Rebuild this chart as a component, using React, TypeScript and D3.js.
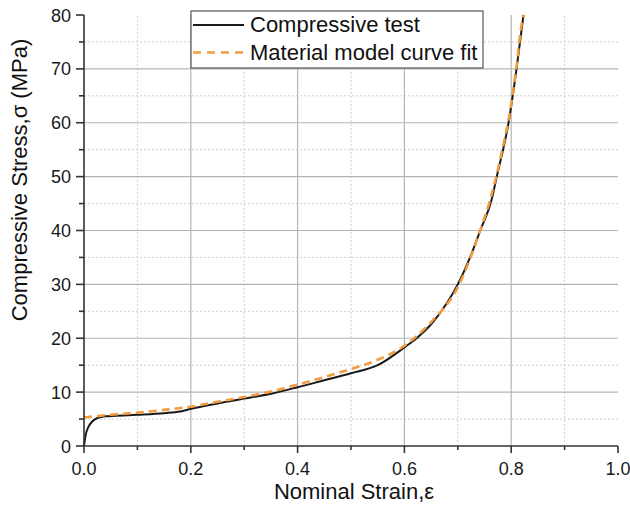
import React from "react";
import * as d3 from "d3";

const testStrain = [0, 0.003, 0.008, 0.015, 0.025, 0.04, 0.06, 0.1, 0.15, 0.18, 0.2, 0.25, 0.3, 0.35, 0.4, 0.45, 0.5, 0.55, 0.6, 0.625, 0.65, 0.68, 0.7, 0.723, 0.742, 0.763, 0.773, 0.795, 0.81, 0.823];
const testStress = [0, 2, 3.5, 4.5, 5.2, 5.5, 5.6, 5.8, 6.1, 6.4, 6.9, 7.9, 8.8, 9.7, 10.9, 12.2, 13.5, 15.0, 18.3, 20.2, 22.6, 26.6, 30, 35, 40, 45.6, 50, 60, 70, 80];

const fitStrain = [0, 0.05, 0.1, 0.15, 0.2, 0.25, 0.3, 0.35, 0.4, 0.45, 0.5, 0.55, 0.6, 0.65, 0.7, 0.72, 0.74, 0.76, 0.78, 0.8, 0.81, 0.82, 0.824];
const fitStress = [5.3, 5.8, 6.2, 6.7, 7.3, 8.2, 9.1, 10.1, 11.4, 12.8, 14.3, 16.0, 18.6, 23, 29.5, 34, 39.5, 45.5, 53.5, 63.5, 70.5, 78.5, 80];

const xTicks = [0, 0.2, 0.4, 0.6, 0.8, 1.0];
const xMinor = [0.1, 0.3, 0.5, 0.7, 0.9];
const yTicks = [0, 10, 20, 30, 40, 50, 60, 70, 80];
const yMinor = [5, 15, 25, 35, 45, 55, 65, 75];

const legendLabels = ["Compressive test", "Material model curve fit"];
const xTitle = "Nominal Strain,\u03b5";
const yTitle = "Compressive Stress,\u03c3 (MPa)";

const FONT = "'Liberation Sans', Arial, Helvetica, sans-serif";

export default function App() {
  const x = d3.scaleLinear().domain([0, 1]).range([84, 618]);
  const y = d3.scaleLinear().domain([0, 80]).range([446, 15]);

  const testPts: [number, number][] = testStrain.map((s, i) => [s, testStress[i]]);
  const fitPts: [number, number][] = fitStrain.map((s, i) => [s, fitStress[i]]);
  const line = d3
    .line<[number, number]>()
    .x((d) => x(d[0]))
    .y((d) => y(d[1]))
    .curve(d3.curveMonotoneX);

  const [x0, x1] = x.range();
  const [y0, y1] = y.range();

  return (
    <svg
      width={630}
      height={507}
      style={{ position: "absolute", left: 0, top: 0, background: "#fff" }}
      fontFamily={FONT}
    >
      {/* minor grid */}
      {xMinor.map((v) => (
        <line key={"xm" + v} x1={x(v)} x2={x(v)} y1={y0} y2={y1} stroke="#d0d0d0" strokeWidth={1} strokeDasharray="2,2" />
      ))}
      {yMinor.map((v) => (
        <line key={"ym" + v} x1={x0} x2={x1} y1={y(v)} y2={y(v)} stroke="#d0d0d0" strokeWidth={1} strokeDasharray="2,2" />
      ))}
      {/* major grid */}
      {xTicks.filter((v) => v > 0 && v < 1).map((v) => (
        <line key={"xg" + v} x1={x(v)} x2={x(v)} y1={y0} y2={y1} stroke="#b4b4b4" strokeWidth={1.2} />
      ))}
      {yTicks.filter((v) => v > 0 && v < 80).map((v) => (
        <line key={"yg" + v} x1={x0} x2={x1} y1={y(v)} y2={y(v)} stroke="#b4b4b4" strokeWidth={1.2} />
      ))}

      {/* curves */}
      <path d={line(testPts) || ""} fill="none" stroke="#1a1a1a" strokeWidth={2} />
      <path d={line(fitPts) || ""} fill="none" stroke="#f39b3f" strokeWidth={2.6} strokeDasharray="8,5" />

      {/* axes */}
      <line x1={x0} x2={x1} y1={y0} y2={y0} stroke="#333" strokeWidth={1.6} />
      <line x1={x0} x2={x0} y1={y0} y2={y1} stroke="#333" strokeWidth={1.6} />
      {xTicks.map((v) => (
        <g key={"xt" + v}>
          <line x1={x(v)} x2={x(v)} y1={y0} y2={y0 + 7} stroke="#333" strokeWidth={1.6} />
          <text x={x(v)} y={y0 + 29} textAnchor="middle" fontSize={18} fill="#1a1a1a">
            {v.toFixed(1)}
          </text>
        </g>
      ))}
      {xMinor.map((v) => (
        <line key={"xmt" + v} x1={x(v)} x2={x(v)} y1={y0} y2={y0 + 4} stroke="#333" strokeWidth={1.6} />
      ))}
      {yTicks.map((v) => (
        <g key={"yt" + v}>
          <line x1={x0 - 8} x2={x0} y1={y(v)} y2={y(v)} stroke="#333" strokeWidth={1.6} />
          <text x={x0 - 13} y={y(v) + 6.5} textAnchor="end" fontSize={18} fill="#1a1a1a">
            {v}
          </text>
        </g>
      ))}
      {yMinor.map((v) => (
        <line key={"ymt" + v} x1={x0 - 5} x2={x0} y1={y(v)} y2={y(v)} stroke="#333" strokeWidth={1.6} />
      ))}

      {/* titles */}
      <text x={354} y={499} textAnchor="middle" fontSize={22} fill="#111">
        {xTitle}
      </text>
      <text transform="translate(27,180) rotate(-90)" textAnchor="middle" fontSize={22} fill="#111">
        {yTitle}
      </text>

      {/* legend */}
      <rect x={191} y={11} width={292} height={57} fill="#fff" stroke="#555" strokeWidth={1.2} />
      <line x1={193} x2={244} y1={25} y2={25} stroke="#1a1a1a" strokeWidth={2} />
      <line x1={193} x2={244} y1={52.5} y2={52.5} stroke="#f39b3f" strokeWidth={2.6} strokeDasharray="8,6" />
      <text x={250} y={32} fontSize={22} fill="#111">
        {legendLabels[0]}
      </text>
      <text x={250} y={60} fontSize={22} fill="#111">
        {legendLabels[1]}
      </text>
    </svg>
  );
}
